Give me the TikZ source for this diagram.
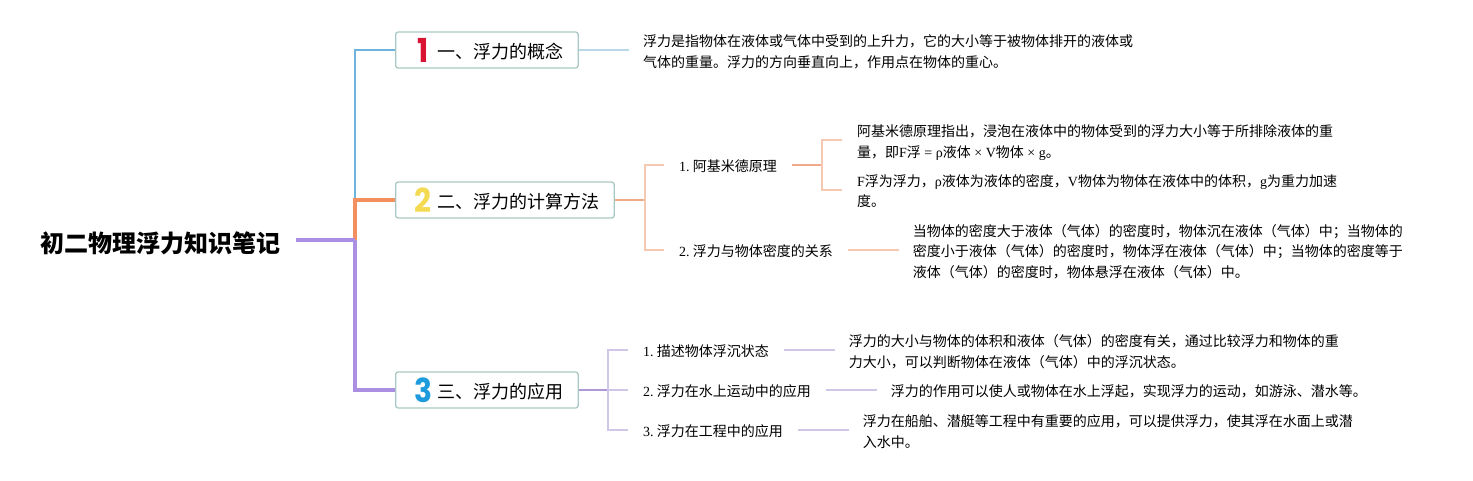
\documentclass[tikz,border=0pt]{standalone}
\usepackage{fontspec}
\setmainfont{Noto Sans CJK SC}
\newfontfamily\latfont{Liberation Serif}
\newfontfamily\iconfont{Poppins}
\usetikzlibrary{positioning}
\definecolor{trunkblue}{RGB}{108, 180, 220}
\definecolor{trunkorange}{RGB}{244, 144, 96}
\definecolor{trunkpurple}{RGB}{170, 143, 226}
\definecolor{lineblue}{RGB}{184, 216, 234}
\definecolor{lineorange}{RGB}{240, 170, 138}
\definecolor{lineorangelight}{RGB}{245, 200, 178}
\definecolor{linepurple}{RGB}{176, 152, 214}
\definecolor{linepurplelight}{RGB}{208, 198, 232}
\definecolor{boxedge}{RGB}{170, 200, 195}
\definecolor{iconred}{RGB}{216, 20, 50}
\definecolor{iconyellow}{RGB}{244, 218, 80}
\definecolor{iconblue}{RGB}{30, 155, 220}
\newcommand{\lat}[1]{{\latfont #1}}
\newcommand{\subnum}[1]{\lat{#1.}\hspace{3.2pt}}
\newcommand{\numicon}[2]{\makebox[27.5pt][c]{\hspace{-1.5pt}\smash{\raisebox{-4pt}{\scalebox{0.9}[1]{\textcolor{#1}{\iconfont\bfseries\fontsize{33}{33}\selectfont #2}}}}}}
\tikzset{
  rootnode/.style={font=\fontsize{24}{28}\selectfont\bfseries, inner xsep=15pt, inner ysep=0pt,
                   text height=26pt, text depth=1.8pt},
  topic/.style={draw=boxedge, line width=1.3pt, rounded corners=2.5pt, fill=white, anchor=west,
                minimum height=36pt, inner xsep=14.5pt, inner ysep=0pt, font=\fontsize{18}{22}\selectfont,
                text height=18pt, text depth=1.3pt},
  subnode/.style={anchor=west, inner xsep=15pt, inner ysep=0pt, font=\fontsize{14}{20}\selectfont,
                  text height=15pt, text depth=1.4pt},
  leaf/.style={anchor=west, inner xsep=14pt, inner ysep=0pt, align=left, font=\fontsize{14}{20.6}\selectfont},
  mainline/.style={line width=3.6pt},
  thinline/.style={line width=1.6pt},
}

\begin{document}
\begin{tikzpicture}[x=1pt, y=-1pt]
  \useasboundingbox (0,0) rectangle (1473,480);

  % --- Root and topics ---
  \node[rootnode, anchor=west] (root) at (25.5,240) {初二物理浮力知识笔记};
  \coordinate (trunk) at (355,240);
  \node[topic] (t1) at (395,50) {\numicon{iconred}{1}一、浮力的概念};
  \node[topic] (t2) at (395,200) {\numicon{iconyellow}{2}二、浮力的计算方法};
  \node[topic] (t3) at (395,390) {\numicon{iconblue}{3}三、浮力的应用};

  \draw[line width=2pt, trunkblue] (trunk |- t2.west) |- (t1.west);
  \draw[mainline, trunkorange] (trunk) |- (t2.west);
  \draw[mainline, trunkpurple] (trunk) |- (t3.west);
  \draw[mainline, trunkpurple] (root.east) -- (trunk);

  % --- Topic one ---
  \node[leaf, right=50pt of t1, yshift=-1.7pt] (l1) {浮力是指物体在液体或气体中受到的上升力，它的大小等于被物体排开的液体或\\
    气体的重量。浮力的方向垂直向上，作用点在物体的重心。};
  \draw[thinline, lineblue] (t1.east) -- (t1.east -| l1.west);

  % --- Topic two ---
  \coordinate (j2) at (645,200);
  \node[subnode] (s21) at (664,165) {\subnum{1}阿基米德原理};
  \node[subnode] (s22) at (664,250) {\subnum{2}浮力与物体密度的关系};
  \draw[thinline, lineorange] (t2.east) -- (j2);
  \draw[thinline, lineorangelight] (j2) |- (s21.west);
  \draw[thinline, lineorangelight] (j2) |- (s22.west);

  \coordinate (j21) at (822,165);
  \coordinate (e211) at (842,140);
  \coordinate (e212) at (842,190);
  \node[leaf] (l211) at (843,142.5) {阿基米德原理指出，浸泡在液体中的物体受到的浮力大小等于所排除液体的重\\
    量，即\lat{F}浮\lat{ = ρ}液体\lat{ × V}物体\lat{ × g}。};
  \node[leaf] (l212) at (843,191) {\lat{F}浮为浮力，\lat{ρ}液体为液体的密度，\lat{V}物体为物体在液体中的体积，\lat{g}为重力加速\\
    度。};
  \draw[thinline, lineorange] (s21.east) -- (j21);
  \draw[thinline, lineorangelight] (j21) |- (e211);
  \draw[thinline, lineorangelight] (j21) |- (e212);

  \node[leaf, right=50.5pt of s22, yshift=-1.7pt] (l22) {当物体的密度大于液体（气体）的密度时，物体沉在液体（气体）中；当物体的\\
    密度小于液体（气体）的密度时，物体浮在液体（气体）中；当物体的密度等于\\
    液体（气体）的密度时，物体悬浮在液体（气体）中。};
  \draw[thinline, lineorangelight] (s22.east) -- (s22.east -| l22.west);

  % --- Topic three ---
  \coordinate (j3) at (608,390);
  \node[subnode] (s31) at (628,350) {\subnum{1}描述物体浮沉状态};
  \node[subnode] (s32) at (628,390) {\subnum{2}浮力在水上运动中的应用};
  \node[subnode] (s33) at (628,430) {\subnum{3}浮力在工程中的应用};
  \draw[thinline, linepurple] (t3.east) -- (j3);
  \draw[thinline, linepurplelight] (j3) |- (s31.west);
  \draw[thinline, linepurplelight] (j3) |- (s33.west);
  \draw[thinline, linepurplelight] (j3) -- (s32.west);

  \node[leaf, right=50.5pt of s31, yshift=-1.7pt] (l31) {浮力的大小与物体的体积和液体（气体）的密度有关，通过比较浮力和物体的重\\
    力大小，可以判断物体在液体（气体）中的浮沉状态。};
  \node[leaf, right=50.5pt of s32, yshift=-1pt] (l32) {浮力的作用可以使人或物体在水上浮起，实现浮力的运动，如游泳、潜水等。};
  \node[leaf, right=50.5pt of s33, yshift=-1.7pt] (l33) {浮力在船舶、潜艇等工程中有重要的应用，可以提供浮力，使其浮在水面上或潜\\
    入水中。};
  \draw[thinline, linepurplelight] (s31.east) -- (s31.east -| l31.west);
  \draw[thinline, linepurplelight] (s32.east) -- (s32.east -| l32.west);
  \draw[thinline, linepurplelight] (s33.east) -- (s33.east -| l33.west);
\end{tikzpicture}
\end{document}
